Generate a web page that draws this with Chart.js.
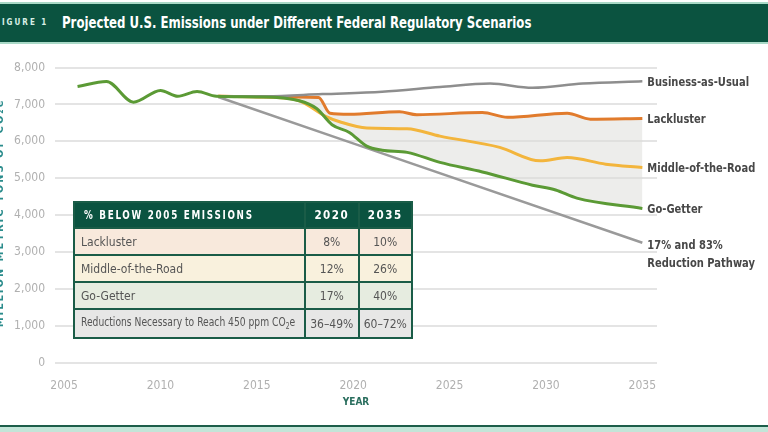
<!DOCTYPE html>
<html>
<head>
<meta charset="utf-8">
<script src="https://cdn.jsdelivr.net/npm/chart.js@4.4.1/dist/chart.umd.min.js"></script>
<style>
  html, body { margin: 0; padding: 0; background: #fff; }
  #wrap { position: relative; width: 768px; height: 432px; overflow: hidden;
          font-family: 'Liberation Sans Narrow', 'DejaVu Sans Condensed', sans-serif; }
  #chart { position: absolute; left: 0; top: 0; }
  .band { position: absolute; left: 0; width: 768px; top: 2px; height: 38px;
          background: #0b5340; border-top: 2px solid #a9d9c7; border-bottom: 2px solid #a9d9c7; }
  .band .fig { position: absolute; left: -5px; top: 14px; color: #d8efe6; font-size: 8px;
               font-weight: bold; letter-spacing: 2px; }
  .band .ttl { position: absolute; left: 62px; top: 10px; color: #fff; font-size: 15px; font-weight: bold;
               white-space: nowrap; transform: scaleX(0.87); transform-origin: left center; }
  .foot { position: absolute; left: 0; width: 768px; top: 425px; height: 2px; background: #1d5e4a;
          border-bottom: 5px solid #c3e5d8; }
  table { position: absolute; left: 73px; top: 201px; border-collapse: collapse; table-layout: fixed;
          width: 340px; font-size: 12px; color: #555; }
  td, th { border: 2px solid #1a5c47; padding: 0; white-space: nowrap; overflow: hidden; }
  th { background: #0b5340; color: #fff; font-weight: bold; letter-spacing: 2px; height: 24px; font-size: 11.5px; }
  th.l { text-align: left; padding-left: 9px; width: 218px; }
  th.c { width: 51px; letter-spacing: 1.5px; }
  td { height: 25px; }
  td.l { padding-left: 6px; }
  td.c { text-align: center; }
  .nar { display: inline-block; transform: scaleX(0.85); transform-origin: left center; }
  tr.r1 td { background: #f8e9dc; }
  tr.r2 td { background: #f9f1dd; }
  tr.r3 td { background: #e6ece0; }
  tr.r4 td { background: #e7e7e6; height: 27px; }
</style>
</head>
<body>
<div id="wrap">
  <canvas id="chart" width="768" height="432"></canvas>
  <div class="band"><span class="fig">FIGURE 1</span><span class="ttl">Projected U.S. Emissions under Different Federal Regulatory Scenarios</span></div>
  <table>
    <tr><th class="l"><span class="nar">% BELOW 2005 EMISSIONS</span></th><th class="c">2020</th><th class="c">2035</th></tr>
    <tr class="r1"><td class="l">Lackluster</td><td class="c">8%</td><td class="c">10%</td></tr>
    <tr class="r2"><td class="l">Middle-of-the-Road</td><td class="c">12%</td><td class="c">26%</td></tr>
    <tr class="r3"><td class="l">Go-Getter</td><td class="c">17%</td><td class="c">40%</td></tr>
    <tr class="r4"><td class="l"><span class="nar">Reductions Necessary to Reach 450 ppm CO<sub style="font-size:8px">2</sub>e</span></td><td class="c">36–49%</td><td class="c">60–72%</td></tr>
  </table>
  <div class="foot"></div>
</div>
<script>
const FONT = "'Liberation Sans Narrow', 'DejaVu Sans Condensed', sans-serif";

// year ticks on the x axis
const tickYears = [2005, 2010, 2015, 2020, 2025, 2030, 2035];

// history plus Go-Getter projection (one green line)
const goYears = [2005.7, 2007.2, 2008.6, 2010, 2010.9, 2011.9, 2012.9, 2015, 2017.2, 2018.1, 2018.9, 2019.8,
                 2020.7, 2021.5, 2022.8, 2024.5, 2026.7, 2029.3, 2030.5, 2031.6, 2035];
const goValues = [7485, 7620, 7060, 7380, 7220, 7350, 7220, 7200, 7100, 6890, 6450, 6240,
                  5870, 5760, 5700, 5430, 5170, 4810, 4680, 4460, 4180];

const bauYears = [2013, 2015.5, 2018.4, 2021.5, 2024.5, 2027.1, 2029.3, 2031.9, 2035];
const bauValues = [7220, 7220, 7280, 7340, 7470, 7565, 7450, 7565, 7625];

const lackYears = [2013, 2015.5, 2018.2, 2018.8, 2019.8, 2022.4, 2023.3, 2026.7, 2028, 2031.1, 2032.3, 2035];
const lackValues = [7220, 7210, 7190, 6760, 6730, 6800, 6720, 6780, 6650, 6760, 6600, 6620];

const midYears = [2013, 2015.5, 2017.2, 2018.6, 2019.3, 2020.7, 2022.8, 2024.5, 2027.6, 2029.7, 2031.1, 2033.1, 2035];
const midValues = [7220, 7200, 7100, 6670, 6530, 6360, 6340, 6140, 5835, 5470, 5560, 5380, 5290];

const pathYears = [2013, 2035];
const pathValues = [7200, 3250];

const labels = ['Go-Getter', 'Business-as-Usual', 'Lackluster', 'Middle-of-the-Road', ['17% and 83%', 'Reduction Pathway']];

function pts(xs, ys) {
    return xs.map((x, i) => ({ x: x, y: ys[i] }));
}

// narrow text: the source uses a condensed face we don't have
function narrowText(ctx, text, x, y, sx) {
    ctx.save();
    ctx.translate(x, y);
    ctx.scale(sx, 1);
    ctx.fillText(text, 0, 0);
    ctx.restore();
}

const endLabels = {
    id: 'endLabels',
    afterDraw(chart) {
        const ctx = chart.ctx;
        const xs = chart.scales.x, ys = chart.scales.y;
        ctx.save();
        ctx.fillStyle = '#474747';
        ctx.font = 'bold 13px ' + FONT;
        ctx.textBaseline = 'middle';
        chart.data.datasets.forEach((ds, i) => {
            const last = ds.data[ds.data.length - 1];
            const px = xs.getPixelForValue(last.x) + 5;
            const py = ys.getPixelForValue(last.y);
            const lab = labels[i];
            if (Array.isArray(lab)) {
                narrowText(ctx, lab[0], px, py + 3, 0.85);
                narrowText(ctx, lab[1], px, py + 21, 0.85);
            } else {
                narrowText(ctx, lab, px, py + 1, 0.85);
            }
        });
        // y axis title, cropped at the left edge like the source
        ctx.translate(0, 213);
        ctx.rotate(-Math.PI / 2);
        ctx.textAlign = 'center';
        ctx.fillStyle = '#2b8c8c';
        ctx.font = 'bold 11px ' + FONT;
        ctx.letterSpacing = '2px';
        ctx.fillText('MILLION METRIC TONS OF CO₂e', 0, 0);
        ctx.restore();
    }
};

const line = (color, width) => ({
    borderColor: color,
    borderWidth: width,
    pointRadius: 0,
    tension: 0.4,
    cubicInterpolationMode: 'monotone',
    fill: false
});

const ctx = document.getElementById('chart').getContext('2d');
const chart = new Chart(ctx, {
    type: 'line',
    data: {
        datasets: [
            Object.assign({ label: 'Go-Getter', data: pts(goYears, goValues) }, line('#5b9a35', 3)),
            Object.assign({ label: 'Business-as-Usual', data: pts(bauYears, bauValues) }, line('#8e8e8e', 2.5)),
            Object.assign({ label: 'Lackluster', data: pts(lackYears, lackValues) }, line('#e17b2c', 3),
                { fill: { target: 0 }, backgroundColor: 'rgba(220,220,216,0.5)' }),
            Object.assign({ label: 'Middle-of-the-Road', data: pts(midYears, midValues) }, line('#f3b53c', 3)),
            Object.assign({ label: 'Reduction Pathway', data: pts(pathYears, pathValues) }, line('#9a9a9a', 2.5), { tension: 0 })
        ]
    },
    options: {
        responsive: false,
        animation: false,
        layout: { padding: { top: 67.5, right: 111, left: 0, bottom: 0 } },
        plugins: {
            legend: { display: false },
            tooltip: { enabled: false },
            filler: { drawTime: 'beforeDatasetsDraw' }
        },
        scales: {
            x: {
                type: 'linear',
                min: 2004.53,
                max: 2035.76,
                grid: { display: false },
                border: { display: false },
                afterBuildTicks: s => { s.ticks = tickYears.map(v => ({ value: v })); },
                afterFit: s => { s.height = 69.3; },
                ticks: {
                    color: '#b0b0b0',
                    font: { family: FONT, size: 12 },
                    padding: 8,
                    maxRotation: 0,
                    callback: v => String(v)
                },
                title: {
                    display: true,
                    text: 'YEAR',
                    color: '#2a6e5e',
                    font: { family: FONT, size: 10, weight: 'bold' },
                    padding: { top: 0, bottom: 24 }
                }
            },
            y: {
                min: 0,
                max: 8000,
                border: { display: false },
                grid: { color: '#e4e4e4', lineWidth: 2, drawTicks: false },
                afterFit: s => { s.width = 55; },
                ticks: {
                    stepSize: 1000,
                    color: '#b0b0b0',
                    font: { family: FONT, size: 12 },
                    padding: 10,
                    callback: v => v.toLocaleString('en-US')
                }
            }
        }
    },
    plugins: [endLabels]
});
</script>
</body>
</html>
